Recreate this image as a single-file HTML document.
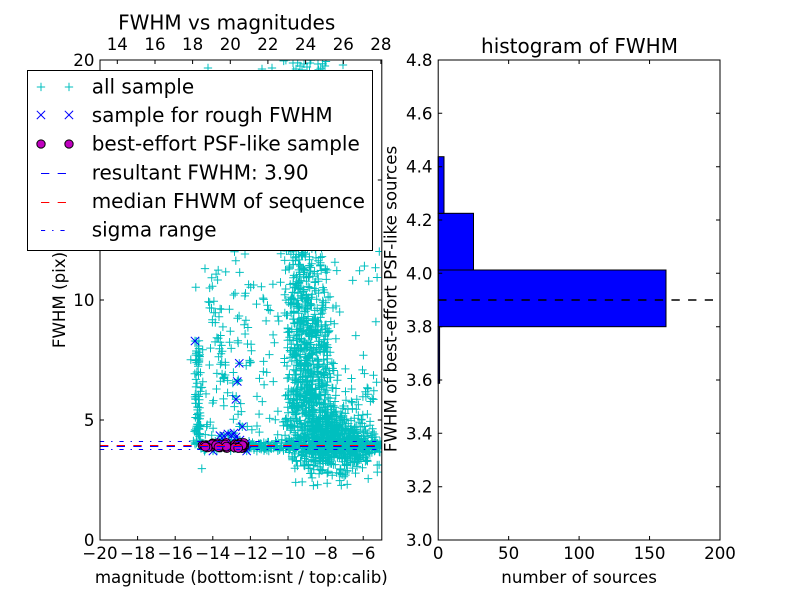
<!DOCTYPE html>
<html><head><meta charset="utf-8">
<style>
html,body{margin:0;padding:0;background:#fff;}
svg{display:block;}
text{font-family:"DejaVu Sans","Liberation Sans",sans-serif;fill:#000;}
.t{font-size:16.67px;}
.b{font-size:20px;}
</style></head>
<body>
<svg id="s" width="800" height="600" viewBox="0 0 800 600" xmlns="http://www.w3.org/2000/svg">
<defs>
<clipPath id="c1"><rect x="100" y="60" width="281.8" height="480"/></clipPath>
</defs>
<rect width="800" height="600" fill="#fff"/>

<!-- LEFT AXES CONTENT -->
<g clip-path="url(#c1)">
  <path id="cy" fill="none" stroke="#00BFBF" stroke-width="1"/>
  <path id="bx" fill="none" stroke="#0000FF" stroke-width="1"/>
  <g id="mc" fill="#BF00BF" stroke="#000" stroke-width="0.9"></g>
  <line x1="100" x2="382" y1="446.5" y2="446.5" stroke="#0000FF" stroke-width="1" stroke-dasharray="8.33 8.33"/>
  <line x1="100" x2="382" y1="445.5" y2="445.5" stroke="#FF0000" stroke-width="1" stroke-dasharray="8.33 8.33"/>
  <line x1="100" x2="382" y1="441.5" y2="441.5" stroke="#0000FF" stroke-width="1" stroke-dasharray="4.17 6.94 1.39 6.94"/>
  <line x1="100" x2="382" y1="449.5" y2="449.5" stroke="#0000FF" stroke-width="1" stroke-dasharray="4.17 6.94 1.39 6.94"/>
</g>

<!-- left axes ticks -->
<path fill="none" stroke="#000" stroke-width="1" d="
M137.6 540v-4M175.2 540v-4M212.8 540v-4M250.4 540v-4M288 540v-4M325.6 540v-4M363.2 540v-4
M117.3 60v4M155 60v4M192.6 60v4M230.3 60v4M267.9 60v4M305.6 60v4M343.3 60v4M380.9 60v4
M100 420h4M100 300h4M100 180h4
M381.8 420h-4M381.8 300h-4M381.8 180h-4"/>
<rect x="100" y="60" width="281.8" height="480" fill="none" stroke="#000" stroke-width="1"/>

<!-- left axes tick labels -->
<g class="t" text-anchor="middle">
<text x="100" y="559">−20</text>
<text x="137.6" y="559">−18</text>
<text x="175.2" y="559">−16</text>
<text x="212.8" y="559">−14</text>
<text x="250.4" y="559">−12</text>
<text x="288" y="559">−10</text>
<text x="325.6" y="559">−8</text>
<text x="363.2" y="559">−6</text>
<text x="117.3" y="50">14</text>
<text x="155" y="50">16</text>
<text x="192.6" y="50">18</text>
<text x="230.3" y="50">20</text>
<text x="267.9" y="50">22</text>
<text x="305.6" y="50">24</text>
<text x="343.3" y="50">26</text>
<text x="380.9" y="50">28</text>
</g>
<g class="t" text-anchor="end">
<text x="94.5" y="546">0</text>
<text x="94.5" y="426">5</text>
<text x="94.5" y="306">10</text>
<text x="94.5" y="186">15</text>
<text x="94.5" y="66">20</text>
</g>
<text class="t" x="241.3" y="583" text-anchor="middle">magnitude (bottom:isnt / top:calib)</text>
<text class="t" transform="translate(65,300) rotate(-90)" text-anchor="middle">FWHM (pix)</text>
<text class="b" x="226.7" y="29.5" text-anchor="middle">FWHM vs magnitudes</text>

<!-- LEGEND -->
<rect x="27.5" y="70.5" width="345" height="180" fill="#fff" stroke="#000" stroke-width="1"/>
<path fill="none" stroke="#00BFBF" stroke-width="1" d="M36.8 87h8.33M41 82.8v8.33M64.8 87h8.33M69 82.8v8.33"/>
<path fill="none" stroke="#0000FF" stroke-width="1" d="M36.8 110.8l8.33 8.33M36.8 119.1l8.33 -8.33M64.8 110.8l8.33 8.33M64.8 119.1l8.33 -8.33"/>
<circle cx="41" cy="144" r="4.17" fill="#BF00BF" stroke="#000" stroke-width="1"/>
<circle cx="69" cy="144" r="4.17" fill="#BF00BF" stroke="#000" stroke-width="1"/>
<line x1="41" x2="69" y1="173.5" y2="173.5" stroke="#0000FF" stroke-width="1" stroke-dasharray="8.33 8.33"/>
<line x1="41" x2="69" y1="202.5" y2="202.5" stroke="#FF0000" stroke-width="1" stroke-dasharray="8.33 8.33"/>
<line x1="41" x2="69" y1="230.5" y2="230.5" stroke="#0000FF" stroke-width="1" stroke-dasharray="4.17 6.94 1.39 6.94"/>
<g class="b">
<text x="91.7" y="93.3">all sample</text>
<text x="91.7" y="122">sample for rough FWHM</text>
<text x="91.7" y="150.7">best-effort PSF-like sample</text>
<text x="91.7" y="179.3">resultant FWHM: 3.90</text>
<text x="91.7" y="208">median FHWM of sequence</text>
<text x="91.7" y="236.7">sigma range</text>
</g>

<!-- RIGHT AXES -->
<g fill="#0000FF" stroke="#000" stroke-width="1">
<rect x="438.2" y="326.7" width="1.4" height="56.6"/>
<rect x="438.2" y="270" width="227.8" height="56.7"/>
<rect x="438.2" y="213.3" width="35.3" height="56.7"/>
<rect x="438.2" y="156.7" width="5.8" height="56.6"/>
</g>
<line x1="438.2" x2="713" y1="300" y2="300" stroke="#000" stroke-width="1.5" stroke-dasharray="8.33 8.33"/>
<path fill="none" stroke="#000" stroke-width="1" d="
M508.65 540v-4M579.1 540v-4M649.55 540v-4
M508.65 60v4M579.1 60v4M649.55 60v4
M438.2 486.7h4M438.2 433.3h4M438.2 380h4M438.2 326.7h4M438.2 273.3h4M438.2 220h4M438.2 166.7h4M438.2 113.3h4
M720 486.7h-4M720 433.3h-4M720 380h-4M720 326.7h-4M720 273.3h-4M720 220h-4M720 166.7h-4M720 113.3h-4"/>
<rect x="438.2" y="60" width="281.8" height="480" fill="none" stroke="#000" stroke-width="1"/>
<g class="t" text-anchor="middle">
<text x="438.2" y="559">0</text>
<text x="508.65" y="559">50</text>
<text x="579.1" y="559">100</text>
<text x="649.55" y="559">150</text>
<text x="720" y="559">200</text>
</g>
<g class="t" text-anchor="end">
<text x="432.5" y="546">3.0</text>
<text x="432.5" y="492.7">3.2</text>
<text x="432.5" y="439.3">3.4</text>
<text x="432.5" y="386">3.6</text>
<text x="432.5" y="332.7">3.8</text>
<text x="432.5" y="279.3">4.0</text>
<text x="432.5" y="226">4.2</text>
<text x="432.5" y="172.7">4.4</text>
<text x="432.5" y="119.3">4.6</text>
<text x="432.5" y="66">4.8</text>
</g>
<text class="t" x="579.1" y="583" text-anchor="middle">number of sources</text>
<text class="b" x="579.5" y="53" text-anchor="middle">histogram of FWHM</text>
<text class="t" transform="translate(396.5,299) rotate(-90)" text-anchor="middle">FWHM of best-effort PSF-like sources</text>
</svg>

<script>
(function(){
var a=12345;
function R(){a|=0;a=a+0x6D2B79F5|0;var t=Math.imul(a^a>>>15,1|a);t=t+Math.imul(t^t>>>7,61|t)^t;return((t^t>>>14)>>>0)/4294967296;}
function G(){var u=1-R(),v=R();return Math.sqrt(-2*Math.log(u))*Math.cos(2*Math.PI*v);}
var d=[];
function P(x,y){d.push("M"+(x-4.17).toFixed(1)+" "+y.toFixed(1)+"h8.33M"+x.toFixed(1)+" "+(y-4.17).toFixed(1)+"v8.33");}
var i,x,y,s;
// dense lower mass
for(i=0;i<620;i++){x=309+G()*13;y=395+G()*40;if(y<290||y>470)continue;P(x,y);}
for(i=0;i<400;i++){x=328+G()*16;y=440+G()*14;if(y>476)continue;P(x,y);}
for(i=0;i<170;i++){x=352+G()*12;y=447+G()*10;if(y>478)continue;P(x,y);}
// column
for(i=0;i<260;i++){x=304+G()*10;y=240+R()*110;P(x,y);}
for(i=0;i<150;i++){x=303+G()*12;y=60+R()*190;P(x,y);}
// horizontal band at FWHM ~3.9
for(i=0;i<380;i++){x=200+R()*182;y=446+G()*2.3;P(x,y);}
// left plume
for(i=0;i<85;i++){x=198+G()*2;y=445-Math.pow(R(),1.4)*105;P(x,y);}
// diagonal stream
for(i=0;i<35;i++){s=R();x=212+s*16+G()*3;y=300+s*95+G()*4;P(x,y);}
// sparse mid-left
for(i=0;i<55;i++){x=205+R()*60;y=270+R()*170;P(x,y);}
// sparse field
for(i=0;i<110;i++){x=190+R()*190;y=250+R()*220;P(x,y);}
for(i=0;i<40;i++){x=340+R()*40;y=420+G()*25;P(x,y);}
// below the line
for(i=0;i<35;i++){x=325+G()*22;y=458+R()*28;P(x,y);}
// top strip
var top=[[293,63],[300,66],[304,64],[307,67],[310,63],[318,64],[325,66],[343,65],[208,68],[272,68],[262,69],[296,69]];
for(i=0;i<top.length;i++)P(top[i][0],top[i][1]);
// rough sample X markers
var bx=[[195,341],[239.3,363.3],[237.3,381.5],[236,399.3],[242.3,426.7],[220,435.7],[224,436],[228,434],[231.7,435.7],[234,433],[236,437],[213,451],[246.7,451],[240,440]];
for(i=0;i<10;i++){bx.push([202+R()*46,446+G()*1.5]);}
var e=[];
for(i=0;i<bx.length;i++){x=bx[i][0];y=bx[i][1];P(x,y);
 e.push("M"+(x-4.17).toFixed(1)+" "+(y-4.17).toFixed(1)+"l8.33 8.33M"+(x-4.17).toFixed(1)+" "+(y+4.17).toFixed(1)+"l8.33 -8.33");}
document.getElementById('cy').setAttribute('d',d.join(''));
document.getElementById('bx').setAttribute('d',e.join(''));
// magenta circles
var g=document.getElementById('mc'),ns="http://www.w3.org/2000/svg";
for(i=0;i<60;i++){
 x=(i%2==0)?(201.5+R()*26):(234.5+R()*10);
 y=445.5+G()*1.8; if(y<443)y=443; if(y>448)y=448;
 var c=document.createElementNS(ns,'circle');
 c.setAttribute('cx',x.toFixed(1));c.setAttribute('cy',y.toFixed(1));c.setAttribute('r','4.4');
 g.appendChild(c);
}
})();
</script>
</body></html>
